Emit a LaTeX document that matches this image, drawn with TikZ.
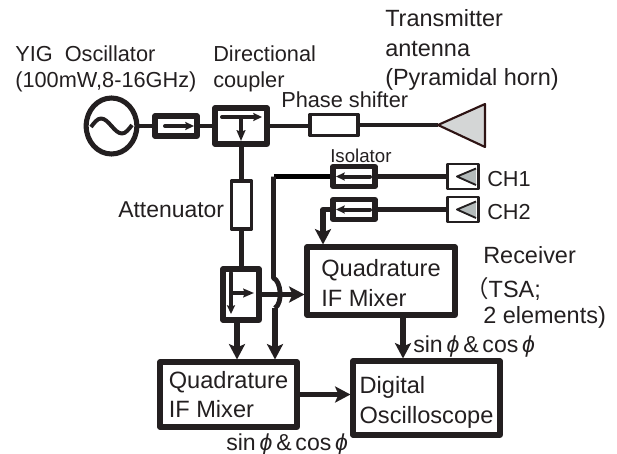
\documentclass[tikz,border=0pt]{standalone}
\usepackage{fontspec}
\setmainfont{Liberation Sans}
\newfontfamily\cjkfont{Noto Sans CJK SC}
\usetikzlibrary{shapes.geometric, arrows.meta}
\definecolor{MyDark}{HTML}{231F20}
\definecolor{MyBrown}{HTML}{2E1414}
\definecolor{MyGray}{HTML}{D4D6D6}
\definecolor{MyTeal}{HTML}{B4BBBB}
\newcommand{\sincos}{sin\,\textit{ϕ}\,\&\,cos\,\textit{ϕ}}
\begin{document}
\begin{tikzpicture}[x=0.75pt, y=-0.75pt, color=MyDark, line join=round,
		every node/.style={inner sep=0pt},
		lbl/.style={anchor=base west, font=\fontsize{17.6}{22}\selectfont},
		lblsmall/.style={anchor=base west, font=\fontsize{16.3}{20}\selectfont},
		box/.style={draw, line width=3.8pt, align=left, font=\fontsize{17.7}{22.3}\selectfont},
		isobox/.style={draw, line width=3.8pt, minimum width=31.5pt, minimum height=15pt},
		rxbox/.style={draw, line width=1.6pt, minimum width=23.25pt, minimum height=18.75pt},
		conn/.style={line width=3.6pt},
		tip/.style={line width=3.9pt, -{Stealth[length=11.5pt, width=12pt, inset=2.5pt]}},
		inner/.style={line width=3pt, line cap=round, -{Stealth[length=6.5pt, width=6pt, inset=1pt]}},
		innerthin/.style={line width=2.4pt, -{Stealth[length=8pt, width=6.5pt, inset=1pt]}}]
		
		\useasboundingbox (0,0) rectangle (617,453);
		
		% transmitter chain
		\node[draw, ellipse, line width=3.8pt, minimum width=38pt, minimum height=42pt] (osc) at (111.5,126) {};
		\node[isobox] (isoT) at (176,126) {};
		\node[draw, line width=3.8pt, minimum width=39pt, minimum height=27pt] (cplA) at (241,126) {};
		\node[draw, line width=2.7pt, minimum width=36pt, minimum height=15.75pt] (phase) at (334,125) {};
		\coordinate (horn) at (438,125);
		
		\draw[line width=3pt] (91,127) sin (101,118.5) cos (111.5,126) sin (122,133.5) cos (132,125);
		\draw[conn] (osc) -- (isoT);
		\draw[conn] (isoT) -- (cplA);
		\draw[conn] (cplA.east) -- (cplA.east -| phase.west);
		\draw[conn] (phase.east) -- (horn);
		\draw[MyBrown, fill=MyGray, line width=1.6pt] (horn) -- (485,104) -- (485,147) -- cycle;
		
		\coordinate (isoTa) at (165,126);
		\coordinate (isoTb) at (194,126);
		\coordinate (cplAa) at (222,117);
		\coordinate (cplAb) at (262,117);
		\coordinate (cplAc) at (241,117);
		\coordinate (cplAd) at (241,141);
		\draw[inner] (isoTa) -- (isoTb);
		\draw[inner] (cplAa) -- (cplAb);
		\draw[innerthin] (cplAc) -- (cplAd);
		
		% reference branch
		\node[draw, line width=2.7pt, minimum width=15pt, minimum height=36pt] (att) at (241.5,205) {};
		\node[draw, line width=3.8pt, minimum width=27pt, minimum height=38.25pt] (cplB) at (241,294.5) {};
		\node[box, minimum width=102.75pt, minimum height=48.75pt] (mixB) at (228.5,394.5) {Quadrature\\IF Mixer};
		
		\draw[conn] (cplA.south -| att.north) -- (att.north);
		\draw[conn] (att.south) -- (att.south |- cplB.north);
		
		\coordinate (cplBa) at (231,273);
		\coordinate (cplBb) at (231,314);
		\coordinate (cplBc) at (231,293);
		\coordinate (cplBd) at (254,293);
		\coordinate (cplBout) at (237,322);
		\draw[inner] (cplBa) -- (cplBb);
		\draw[innerthin] (cplBc) -- (cplBd);
		\draw[tip] (cplBout) -- (cplBout |- mixB.north);
		
		% receiver chain
		\node[isobox] (isoA) at (354,176.5) {};
		\node[isobox] (isoB) at (354,209.5) {};
		\node[rxbox] (chA) at (463,176.5) {};
		\node[rxbox] (chB) at (463,209.5) {};
		\node[box, minimum width=111pt, minimum height=51pt] (mixA) at (381,281) {\rule{0pt}{16pt}Quadrature\\IF Mixer};
		\node[box, minimum width=110.25pt, minimum height=55.5pt] (scope) at (426.5,398) {\rule{0pt}{19pt}Digital\\Oscilloscope};
		
		\draw[conn] (isoA) -- (chA);
		\draw[conn] (isoB) -- (chB);
		\draw[MyDark, fill=MyTeal, line width=1.4pt] (476,168.5) -- (457,176.5) -- (476,185);
		\draw[MyDark, fill=MyTeal, line width=1.4pt] (476,201.5) -- (457,209.5) -- (476,218);
		
		\coordinate (isoAa) at (370,176.5);
		\coordinate (isoAb) at (336,176.5);
		\coordinate (isoBa) at (370,209.5);
		\coordinate (isoBb) at (336,209.5);
		\draw[inner] (isoAa) -- (isoAb);
		\draw[inner] (isoBa) -- (isoBb);
		
		\coordinate (corner) at (273.5,176.5);
		\coordinate (mixAin) at (323,209.5);
		\coordinate (mixBin) at (275,308);
		\coordinate (scopeIn) at (403,317);
		
		\draw[black, line width=4.2pt] (isoA.west) -- (corner);
		\draw[conn] (corner) -- (273.5,278) .. controls (281,281) and (283,303) .. (mixBin);
		\draw[tip] (mixBin) -- (mixBin |- mixB.north);
		\draw[tip] (isoB.west) -- (mixAin) -- (mixAin |- mixA.north);
		\draw[tip] (cplB.east) -- (cplB.east -| mixA.west);
		\draw[tip] (scopeIn) -- (scopeIn |- scope.north);
		\draw[tip] (mixB.east) -- (mixB.east -| scope.west);
		
		% labels
		\node[lblsmall] (lblYig) at (15,62) {YIG\ \ Oscillator};
		\node[lblsmall] (lblPower) at (15,88) {(100mW,8-16GHz)};
		\node[lblsmall] (lblDir) at (213,62) {Directional};
		\node[lblsmall] (lblCoup) at (213,88) {coupler};
		\node[lblsmall] (lblPhase) at (281,108) {Phase shifter};
		\node[lbl] (lblTrans) at (385,27) {Transmitter};
		\node[lbl] (lblAnt) at (385,56) {antenna};
		\node[lbl] (lblHorn) at (385,85) {(Pyramidal horn)};
		\node[lbl, font=\fontsize{17.2}{22}\selectfont] (lblAtt) at (118,217) {Attenuator};
		\node[lbl, font=\fontsize{14}{16}\selectfont] (lblIso) at (330,162) {Isolator};
		\node[lblsmall] (lblChA) at (487,186) {CH1};
		\node[lblsmall] (lblChB) at (487,219) {CH2};
		\node[lbl] (lblRec) at (483,263) {Receiver};
		\node[lbl] (lblTsa) at (465,297) {{\cjkfont （}TSA;};
		\node[lbl] (lblEl) at (483,323) {2 elements)};
		\node[lbl, font=\fontsize{17.3}{22}\selectfont] (lblSinA) at (413,352) {\sincos};
		\node[lbl, font=\fontsize{17.3}{22}\selectfont] (lblSinB) at (226,450) {\sincos};
	\end{tikzpicture}
\end{document}
